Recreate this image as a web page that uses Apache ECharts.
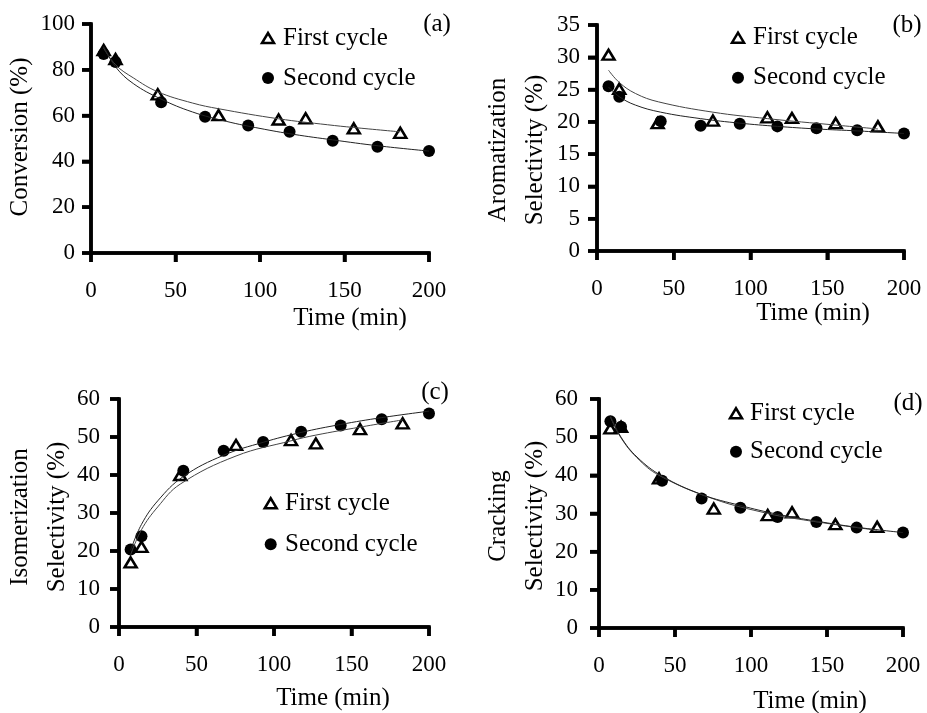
<!DOCTYPE html>
<html><head><meta charset="utf-8">
<script src="https://cdn.jsdelivr.net/npm/echarts@6/dist/echarts.min.js"></script>
<style>html,body{margin:0;padding:0;background:#fff}#c{width:927px;height:713px}</style>
</head><body><div id="c"></div>
<script>
// ---- data ----
var timeFirst  = [7.5, 14.5, 39.5, 75.5, 111, 127, 155.5, 183];
var timeSecond = [7.5, 14.5, 41.5, 67.5, 93, 117.5, 143, 169.5, 200];

var convFirst   = [88.6, 84.7, 69.3, 60.2, 58.3, 58.8, 54.4, 52.5];
var convSecond  = [86.9, 83.4, 65.8, 59.5, 55.7, 52.9, 49.0, 46.4, 44.5];
var aromFirst   = [30.4, 25.1, 19.8, 20.2, 20.7, 20.6, 19.8, 19.3];
var aromSecond  = [25.5, 23.9, 20.1, 19.4, 19.7, 19.3, 19.0, 18.7, 18.2];
var isoFirst    = [17.0, 21.1, 40.0, 47.9, 49.2, 48.3, 52.1, 53.6];
var isoSecond   = [20.4, 23.9, 41.1, 46.4, 48.7, 51.4, 53.0, 54.7, 56.2];
var crackFirst  = [52.3, 52.7, 39.2, 31.3, 29.6, 30.3, 27.2, 26.5];
var crackSecond = [54.2, 52.7, 38.6, 33.9, 31.5, 29.1, 27.8, 26.3, 25.0];

// trend curves: [time, value]
var fitConvFirst   = [[7.5,89.5],[14.5,82.2],[25,76.5],[39.5,70.4],[60,65.5],[75.5,63],[111,58.6],[140,56],[155.5,54.8],[183,52.9]];
var fitConvSecond  = [[7.5,90.2],[14.5,81.3],[25,74.0],[41.5,67.2],[60,61.6],[80,57.5],[100,54.4],[120,51.8],[143,49.4],[170,46.8],[200,44.5]];
var fitAromFirst   = [[7.5,28.0],[14.5,26.1],[25,24.4],[40,23.1],[75.5,21.5],[111,20.5],[155.5,19.5],[183,18.9]];
var fitAromSecond  = [[7.5,25.4],[14.5,23.9],[25,22.6],[41.5,21.5],[67.5,20.5],[93,19.8],[117.5,19.3],[143,18.9],[169.5,18.6],[200,18.2]];
var fitIsoFirst    = [[7.5,19.0],[14.5,25.6],[25,31.6],[39.5,37.6],[75.5,45.0],[111,49.0],[127,50.5],[155.5,52.6],[183,54.5]];
var fitIsoSecond   = [[7.5,20.2],[14.5,27.0],[25,33.2],[41.5,39.6],[67.5,45.2],[93,48.6],[117.5,51.2],[143,53.3],[169.5,55.1],[200,56.8]];
var fitCrackFirst  = [[7.5,55.3],[14.5,49.8],[25,44.6],[39.5,40.0],[75.5,33.8],[111,30.0],[127,28.8],[155.5,27.1],[183,25.6]];
var fitCrackSecond = [[7.5,55.6],[14.5,50.0],[25,44.8],[41.5,39.8],[67.5,35.0],[93,32.1],[117.5,29.8],[143,28.0],[169.5,26.4],[200,25.0]];

var xTicks = {min: 0, max: 200, interval: 50};
var xTickValues = [0, 50, 100, 150, 200];
var yRanges = [{min:0,max:100,interval:20},{min:0,max:35,interval:5},{min:0,max:60,interval:10},{min:0,max:60,interval:10}];
var yTickValues = [[0,20,40,60,80,100],[0,5,10,15,20,25,30,35],[0,10,20,30,40,50,60],[0,10,20,30,40,50,60]];
var panelLabels = ['(a)','(b)','(c)','(d)'];
var yTitles = ['Conversion (%)','Aromatization\nSelectivity (%)','Isomerization\nSelectivity (%)','Cracking\nSelectivity (%)'];
var xTitle = 'Time (min)';
var legendNames = ['First cycle','Second cycle'];

// ---- layout ----
var FONT = 'Liberation Serif';
var grids = [
  {left: 91,  top: 24, width: 338, height: 229},
  {left: 597, top: 25, width: 307, height: 226},
  {left: 119, top: 399, width: 310, height: 228},
  {left: 599, top: 399, width: 304, height: 229}
];
var yLabelMargins = [16, 17, 19, 21];
var xLabelMargin = 26;
var AXIS_W = 3.5, TICK_LEN = 9;

function zip(xs, ys){ return xs.map(function(x,i){ return [x, ys[i]]; }); }

function makeAxis(i, range, margin){
  return {
    type: 'value', gridIndex: i,
    min: range.min, max: range.max, interval: range.interval,
    axisLine: {show: true, onZero: false, lineStyle: {color: '#000', width: AXIS_W}},
    axisTick: {show: true, inside: false, length: TICK_LEN, lineStyle: {color: '#000', width: AXIS_W}},
    splitLine: {show: false},
    axisLabel: {color: '#000', fontFamily: FONT, fontSize: 23, margin: margin}
  };
}

var xAxes = [], yAxes = [], series = [];
for (var i = 0; i < 4; i++) {
  xAxes.push(makeAxis(i, xTicks, xLabelMargin));
  yAxes.push(makeAxis(i, yRanges[i], yLabelMargins[i]));
}

var panelData = [
  [convFirst, convSecond, fitConvFirst, fitConvSecond],
  [aromFirst, aromSecond, fitAromFirst, fitAromSecond],
  [isoFirst, isoSecond, fitIsoFirst, fitIsoSecond],
  [crackFirst, crackSecond, fitCrackFirst, fitCrackSecond]
];

var axisStroke = {stroke: '#000', lineWidth: AXIS_W, lineCap: 'square'};

panelData.forEach(function(p, i){
  var yMin = yRanges[i].min, yMax = yRanges[i].max;
  series.push({type: 'line', name: 'First fit', xAxisIndex: i, yAxisIndex: i, data: p[2], smooth: 0.4,
    showSymbol: false, symbol: 'none', lineStyle: {color: '#444', width: 1}, silent: true});
  series.push({type: 'line', name: 'Second fit', xAxisIndex: i, yAxisIndex: i, data: p[3], smooth: 0.4,
    showSymbol: false, symbol: 'none', lineStyle: {color: '#222', width: 1}, silent: true});
  series.push({type: 'scatter', name: legendNames[0], xAxisIndex: i, yAxisIndex: i, data: zip(timeFirst, p[0]),
    symbol: 'triangle', symbolSize: [12, 10], itemStyle: {color: '#fff', borderColor: '#000', borderWidth: 2.5, opacity: 1}});
  series.push({type: 'scatter', name: legendNames[1], xAxisIndex: i, yAxisIndex: i, data: zip(timeSecond, p[1]),
    symbol: 'circle', symbolSize: 12, itemStyle: {color: '#000', borderColor: '#000', borderWidth: 0, opacity: 1}});
  // axis lines, drawn through the axes' own scales
  series.push({type: 'custom', name: 'axis frame', xAxisIndex: i, yAxisIndex: i, silent: true, clip: false, z: 5,
    data: [[xTicks.min, yMin, xTicks.max, yMax]],
    renderItem: function(params, api){
      var o = api.coord([api.value(0), api.value(1)]);
      var xe = api.coord([api.value(2), api.value(1)]);
      var ye = api.coord([api.value(0), api.value(3)]);
      return {type: 'group', children: [
        {type: 'line', shape: {x1: o[0], y1: o[1], x2: xe[0], y2: xe[1]}, style: axisStroke},
        {type: 'line', shape: {x1: o[0], y1: o[1], x2: ye[0], y2: ye[1]}, style: axisStroke}
      ]};
    }});
  // x ticks
  series.push({type: 'custom', name: 'x ticks', xAxisIndex: i, yAxisIndex: i, silent: true, clip: false, z: 5,
    data: xTickValues.map(function(v){ return [v, yMin]; }),
    renderItem: function(params, api){
      var q = api.coord([api.value(0), api.value(1)]);
      return {type: 'line', shape: {x1: q[0], y1: q[1], x2: q[0], y2: q[1] + TICK_LEN}, style: {stroke: '#000', lineWidth: AXIS_W}};
    }});
  // y ticks
  series.push({type: 'custom', name: 'y ticks', xAxisIndex: i, yAxisIndex: i, silent: true, clip: false, z: 5,
    data: yTickValues[i].map(function(v){ return [xTicks.min, v]; }),
    renderItem: function(params, api){
      var q = api.coord([api.value(0), api.value(1)]);
      return {type: 'line', shape: {x1: q[0] - TICK_LEN, y1: q[1], x2: q[0], y2: q[1]}, style: {stroke: '#000', lineWidth: AXIS_W}};
    }});
});

// ---- texts: axis titles, panel labels, legend keys ----
function txt(x, y, s, rot, lh, align){
  return {type: 'text', x: x, y: y, rotation: rot || 0, silent: true, z: 10,
    style: {text: s, fill: '#000', font: '25px "Liberation Serif", serif', align: align || 'center', verticalAlign: 'middle',
      lineHeight: lh || 30}};
}
var xTitlePos = [[350, 318], [813, 313], [333, 698], [810, 701.5]];
var yTitlePos = [[20, 137], [516.5, 150], [39, 517], [516.5, 516]];
var labelPos = [[437, 24], [907, 25], [435, 392], [908, 403]];
var legendKeys = [
  {x: 268, y1: 38, y2: 78, tx: 283},
  {x: 738, y1: 37.7, y2: 77.7, tx: 753},
  {x: 270.7, y1: 503.3, y2: 544.3, tx: 285},
  {x: 736, y1: 413.3, y2: 451.7, tx: 750}
];
var graphics = [];
for (var k = 0; k < 4; k++) {
  graphics.push(txt(xTitlePos[k][0], xTitlePos[k][1], xTitle));
  graphics.push(txt(yTitlePos[k][0], yTitlePos[k][1], yTitles[k], Math.PI / 2, 37));
  graphics.push(txt(labelPos[k][0], labelPos[k][1], panelLabels[k]));
  var L = legendKeys[k];
  graphics.push({type: 'polygon', x: L.x, y: L.y1, silent: true, z: 10,
    shape: {points: [[-6, 5], [6, 5], [0, -5]]}, style: {fill: '#fff', stroke: '#000', lineWidth: 2.5}});
  graphics.push({type: 'circle', x: L.x, y: L.y2, silent: true, z: 10,
    shape: {cx: 0, cy: 0, r: 6}, style: {fill: '#000'}});
  graphics.push(txt(L.tx, L.y1, legendNames[0], 0, 30, 'left'));
  graphics.push(txt(L.tx, L.y2, legendNames[1], 0, 30, 'left'));
}

var chart = echarts.init(document.getElementById('c'));
chart.setOption({
  animation: false,
  grid: grids,
  xAxis: xAxes,
  yAxis: yAxes,
  series: series,
  graphic: graphics
});
</script></body></html>
